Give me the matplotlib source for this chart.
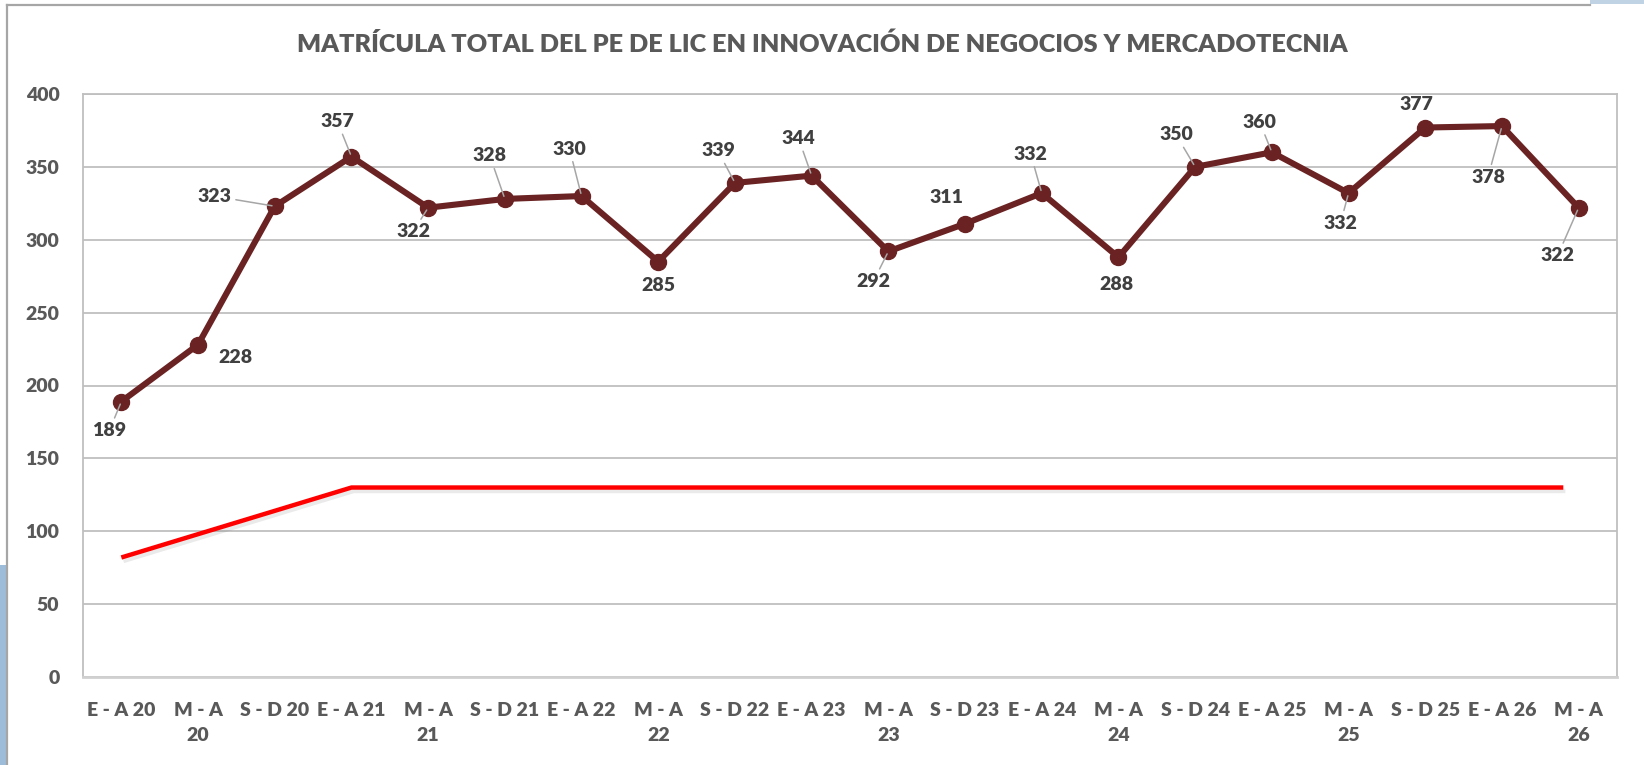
import matplotlib
matplotlib.use('Agg')
import matplotlib.pyplot as plt
import matplotlib.patheffects as pe
from matplotlib.patches import Rectangle
from matplotlib.lines import Line2D

# Data
periods = ['E - A 20', 'M - A\n20', 'S - D 20', 'E - A 21', 'M - A\n21', 'S - D 21',
           'E - A 22', 'M - A\n22', 'S - D 22', 'E - A 23', 'M - A\n23', 'S - D 23',
           'E - A 24', 'M - A\n24', 'S - D 24', 'E - A 25', 'M - A\n25', 'S - D 25',
           'E - A 26', 'M - A\n26']
matricula = [189, 228, 323, 357, 322, 328, 330, 285, 339, 344,
             292, 311, 332, 288, 350, 360, 332, 377, 378, 322]

# red reference line (position on the category axis, value)
meta_x = [0, 3, 18.8]
meta_y = [82, 130, 130]

# label offsets in pixels (dx, dy) and whether a leader line is drawn
label_dx = [-12, 37, -60, -14, -15, -15, -12, 0, -17, -13, -15, -19, -11, -2, -19, -12, -8, -9, -14, -21]
label_dy = [-29, -13, 10, 35, -24, 43, 47, -24, 32, 37, -30, 26, 39, -27, 32, 30, -30, 23, -51, -48]
leader = [True, False, True, True, True, True, True, False, True, True,
          True, False, True, False, True, True, True, False, True, True]

line_color = '#6A2222'
text_color = '#595959'
label_color = '#404040'
font = ['Lato', 'DejaVu Sans']

plt.rcParams['font.family'] = font
fig = plt.figure(figsize=(16.44, 7.65), dpi=100)
ax = fig.add_axes([83 / 1644, 88 / 765, (1617 - 83) / 1644, (677 - 94) / 765])

x = list(range(len(periods)))
ax.plot(meta_x, meta_y, color='#FF0000', lw=3.2, solid_capstyle='butt', zorder=3,
        path_effects=[pe.SimpleLineShadow(offset=(1.5, -2.5), alpha=0.12, shadow_color='#555555'), pe.Normal()])
ax.plot(x, matricula, color=line_color, lw=4.4, marker='o', markersize=11.5, zorder=4)

for i, v in enumerate(matricula):
    props = dict(arrowstyle='-', color='#A6A6A6', lw=1.1, shrinkA=1, shrinkB=2) if leader[i] else None
    ax.annotate(str(v), (i, v), xytext=(label_dx[i], label_dy[i]), textcoords='offset pixels',
                ha='center', va='center', fontsize=14, fontweight='heavy', color=label_color,
                arrowprops=props, zorder=5)

ax.set_xlim(-0.5, 19.5)
ax.set_ylim(0, 400)
ax.set_yticks(range(0, 401, 50))
ax.set_xticks(x)
ax.set_xticklabels(periods, linespacing=1.55, va='top')
ax.grid(axis='y', color='#BFBFBF', lw=1.3)
ax.set_axisbelow(True)
ax.tick_params(length=0, labelsize=14, labelcolor=text_color)
ax.tick_params(axis='y', pad=17)
ax.tick_params(axis='x', pad=18)
for lbl in ax.get_xticklabels() + ax.get_yticklabels():
    lbl.set_fontweight('heavy')
for s in ax.spines.values():
    s.set_color('#BFBFBF')
    s.set_linewidth(1.3)
ax.spines['bottom'].set_color('#D0D0D0')
ax.spines['bottom'].set_linewidth(2)

fig.text(822 / 1644, 1 - 44 / 765, 'MATRÍCULA TOTAL DEL PE DE LIC EN INNOVACIÓN DE NEGOCIOS Y MERCADOTECNIA',
         ha='center', va='center', fontsize=18.2, fontweight='heavy', color=text_color)

# chart frame and decorative corners
fig.add_artist(Line2D([7 / 1644, 7 / 1644], [0, 1 - 5 / 765], transform=fig.transFigure, color='#A6A6A6', lw=1.6))
fig.add_artist(Line2D([7 / 1644, 1590 / 1644], [1 - 5 / 765, 1 - 5 / 765], transform=fig.transFigure, color='#A6A6A6', lw=1.6))
fig.add_artist(Rectangle((0, 0), 6 / 1644, 200 / 765, transform=fig.transFigure, color='#9DBCD9', lw=0))
fig.add_artist(Rectangle((1590 / 1644, 1 - 4 / 765), 54 / 1644, 4 / 765, transform=fig.transFigure, color='#BFD3E4', lw=0))

fig.savefig('out.png', dpi=100)
